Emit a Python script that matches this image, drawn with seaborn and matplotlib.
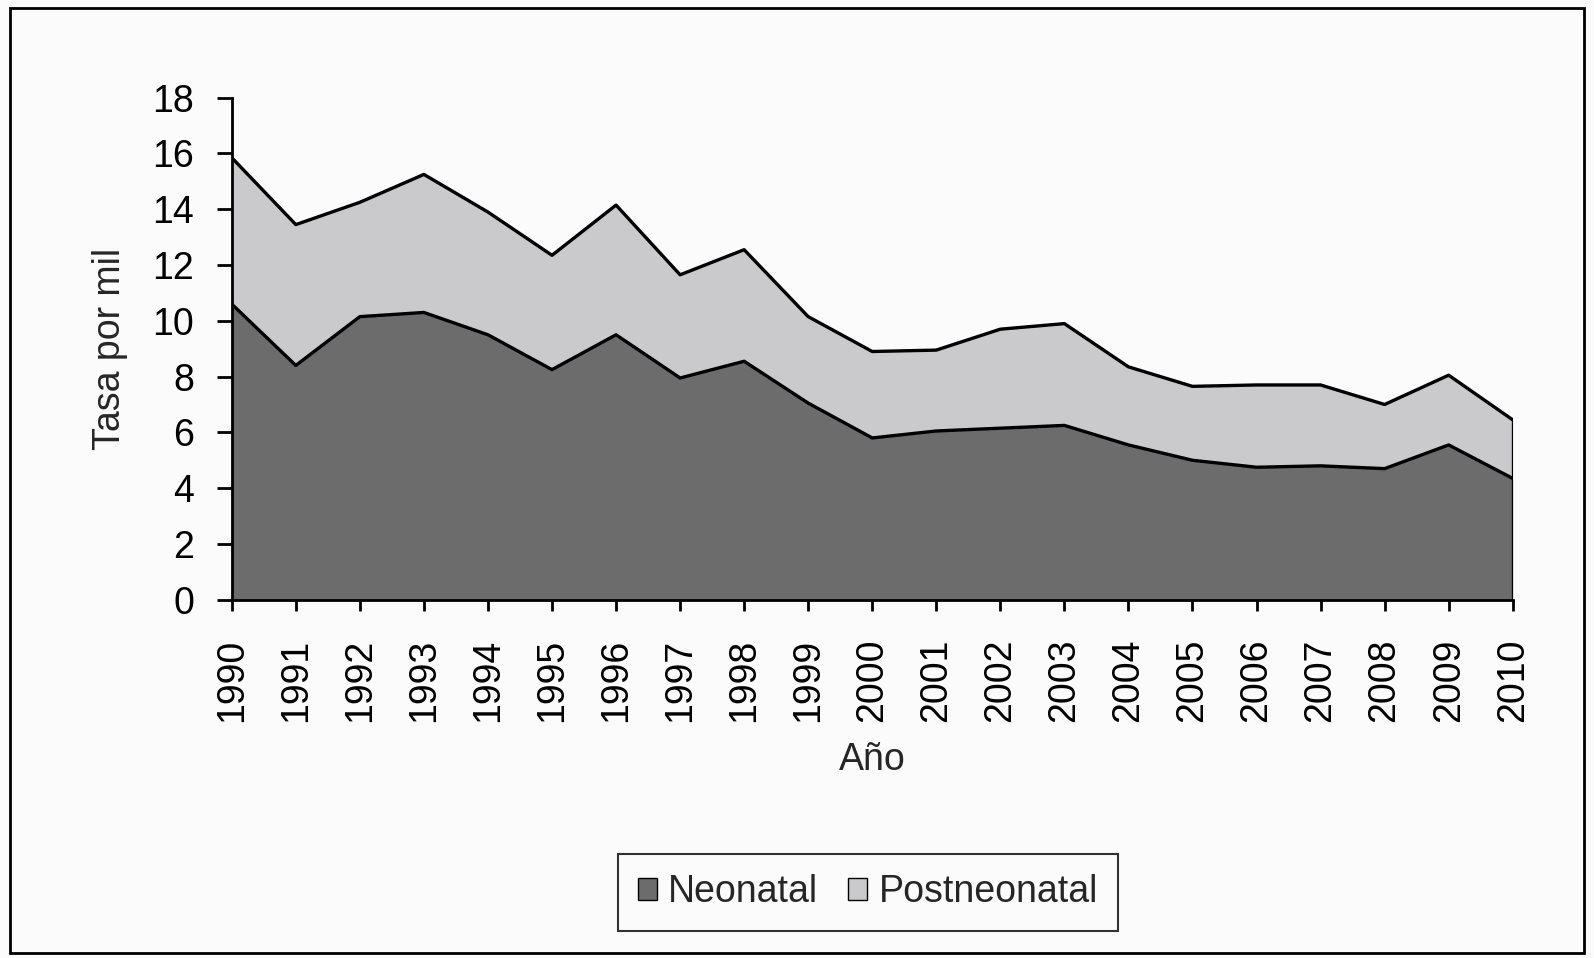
import pandas as pd
import matplotlib
matplotlib.use("Agg")
import matplotlib.pyplot as plt
from matplotlib.patches import Patch, Rectangle
import seaborn as sns

# datos (tasa por mil)
years = list(range(1990, 2011))
neonatal = [10.6, 8.4, 10.15, 10.3, 9.5, 8.25, 9.5, 7.95, 8.55, 7.05,
            5.8, 6.05, 6.15, 6.25, 5.55, 5.0, 4.75, 4.8, 4.7, 5.55, 4.35]
postneonatal = [5.25, 5.05, 4.1, 4.95, 4.4, 4.1, 4.65, 3.7, 4.0, 3.1,
                3.1, 2.9, 3.55, 3.65, 2.8, 2.65, 2.95, 2.9, 2.3, 2.5, 2.1]
y_ticks = list(range(0, 20, 2))

df = pd.DataFrame({'year': years, 'neonatal': neonatal, 'postneonatal': postneonatal})
df['total'] = df['neonatal'] + df['postneonatal']

dark = '#6c6c6c'
light = '#cacacc'
bg = '#fbfbfc'

sns.set_theme(style="white")
plt.rcParams['font.family'] = ['Liberation Sans', 'DejaVu Sans']

fig = plt.figure(figsize=(15.94, 9.58), dpi=100)
fig.patch.set_facecolor(bg)
ax = fig.add_axes([0.1454, 0.374, 0.8036, 0.524])
ax.set_facecolor(bg)

# areas apiladas
ax.stackplot(df['year'], df['neonatal'], df['postneonatal'],
             colors=[dark, light], linewidth=0)
# contornos
sns.lineplot(x='year', y='neonatal', data=df, color='black', lw=2.4, ax=ax)
sns.lineplot(x='year', y='total', data=df, color='black', lw=2.4, ax=ax)
ax.vlines(years[-1], 0, df['total'].iloc[-1], color='black', lw=2.4)

ax.set_xlim(years[0], years[-1])
ax.set_ylim(0, 18)
ax.set_yticks(y_ticks)
ax.set_xticks(years)
ax.set_xticklabels([str(y) for y in years], rotation=90)
ax.tick_params(axis='both', labelsize=27, colors='black', direction='out',
               width=2, bottom=True, left=True)
ax.tick_params(axis='x', length=8, pad=20)
ax.tick_params(axis='y', length=11, pad=16)
ax.set_xlabel('Año', fontsize=27, labelpad=14)
ax.set_ylabel('Tasa por mil', fontsize=27, labelpad=18)

sns.despine(ax=ax)
for s in ['left', 'bottom']:
    ax.spines[s].set_color('black')
    ax.spines[s].set_linewidth(2)

handles = [Patch(facecolor=dark, edgecolor='black', label='Neonatal'),
           Patch(facecolor=light, edgecolor='black', label='Postneonatal')]
leg = fig.legend(handles=handles, loc='center', bbox_to_anchor=(0.5446, 0.0685),
                 ncol=2, fontsize=27, frameon=True, fancybox=False,
                 handlelength=0.5, handleheight=0.5, handletextpad=0.3,
                 columnspacing=0.8, borderpad=0.55, borderaxespad=0)
leg.get_frame().set_edgecolor('black')
leg.get_frame().set_linewidth(1.5)
leg.get_frame().set_facecolor(bg)

# marco exterior
fig.patches.append(Rectangle((0.006, 0.005), 0.988, 0.987, transform=fig.transFigure,
                             fill=False, edgecolor='black', lw=2))

plt.savefig('out.png', dpi=100, facecolor=fig.get_facecolor())
